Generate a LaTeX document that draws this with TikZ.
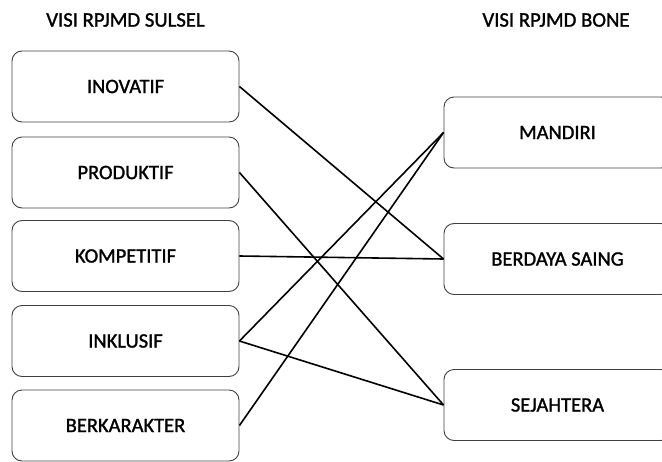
\documentclass[tikz,border=0pt]{standalone}
\usepackage{fontspec}
\setmainfont{Carlito}[FakeBold=1.3]
\begin{document}
\begin{tikzpicture}[x=1pt, y=-1pt,
        visibox/.style={draw=black!75, line width=0.9pt, rounded corners=10pt,
          minimum width=227pt, minimum height=71pt, inner sep=0pt,
          font=\fontsize{20.5}{24}\selectfont},
        judul/.style={font=\fontsize{20.7}{24}\selectfont},
        link/.style={line width=1.6pt}]
        \useasboundingbox (0,0) rectangle (662,461);

        \node [judul] (jsulsel) at (125.5, 20) {VISI RPJMD SULSEL};
        \node [judul] (jbone) at (556, 20) {VISI RPJMD BONE};

        \node [visibox] (inovatif) at (125.5, 86.5) {INOVATIF};
        \node [visibox] (produktif) at (125.5, 172.5) {PRODUKTIF};
        \node [visibox] (kompetitif) at (125.5, 256) {KOMPETITIF};
        \node [visibox] (inklusif) at (125.5, 341) {INKLUSIF};
        \node [visibox] (berkarakter) at (125.5, 425.5) {BERKARAKTER};

        \node [visibox] (mandiri) at (557.5, 132.5) {MANDIRI};
        \node [visibox] (berdaya) at (557.5, 259) {BERDAYA SAING};
        \node [visibox] (sejahtera) at (557.5, 405) {SEJAHTERA};

        \draw [link] (inovatif.east) -- (berdaya.west);
        \draw [link] (produktif.east) -- (sejahtera.west);
        \draw [link] (kompetitif.east) -- (berdaya.west);
        \draw [link] (inklusif.east) -- (mandiri.west);
        \draw [link] (inklusif.east) -- (sejahtera.west);
        \draw [link] (berkarakter.east) -- (mandiri.west);
      \end{tikzpicture}
\end{document}
